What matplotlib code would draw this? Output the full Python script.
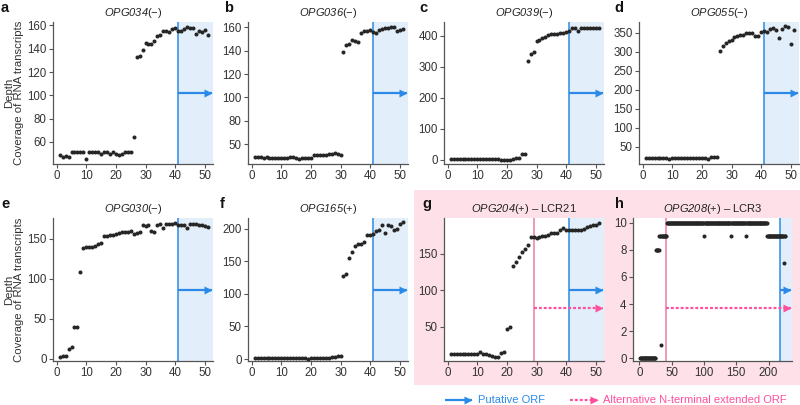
import numpy as np
import matplotlib
matplotlib.use('Agg')
import matplotlib.pyplot as plt
from matplotlib.transforms import blended_transform_factory, ScaledTranslation
from matplotlib.patches import Rectangle
from matplotlib.lines import Line2D

plt.rcParams['font.family'] = ['Liberation Sans', 'DejaVu Sans']
# gene names are the only mathtext: render all of it (digits too) in italic
plt.rcParams['mathtext.fontset'] = 'custom'
plt.rcParams['mathtext.it'] = 'Liberation Sans:italic'
plt.rcParams['mathtext.rm'] = 'Liberation Sans:italic'

# --- data (depth per position) ---
a_y = [49, 47, 48, 47, 51, 51, 51, 51, 51, 45, 51, 51, 51, 51, 50, 51, 51, 50, 51, 50,
       49, 50, 51, 51, 51, 64, 133, 134, 139, 145, 144, 144, 147, 151, 152, 155, 155, 154, 157, 158,
       155, 155, 157, 159, 158, 158, 153, 155, 154, 156, 152]
b_y = [49, 49, 49, 48.5, 49, 48.5, 48.5, 48.5, 48.5, 48.5, 48.5, 48.5, 49, 49, 48.5, 47.5, 48, 48, 48, 48,
       51, 50.5, 50.5, 51, 51, 51.5, 51.5, 52.5, 51.5, 51, 138.6, 145, 146, 149, 148, 147, 154.8, 156.5, 157, 157.5,
       156.3, 155.4, 157.7, 158.5, 159, 159.5, 160.5, 160, 157, 157.7, 158.3]
c_y = [2, 2, 2, 2, 2, 2, 2, 2, 2, 2, 2, 2, 2, 2, 2, 2, 2, 1, 0.5, 0.5,
       1, 3, 5, 5, 19, 19, 320, 340, 347, 383, 386, 393, 397, 402, 404, 404, 404, 408, 410, 412,
       416, 426, 425, 414, 424, 426, 426, 425, 425, 425, 425]
d_y = [21, 21, 21, 21, 21, 21, 21, 21, 17, 21, 21, 21, 21, 21, 21, 21, 21, 21, 21, 21,
       21, 17, 22, 22, 23, 302, 315, 322, 329, 331, 339, 340, 344, 344, 348, 348, 350, 342, 340, 353,
       354, 353, 359, 363, 357, 337, 359, 367, 364, 320, 358]
e_y = [2, 3, 3, 12, 14, 40, 39, 108, 138, 140, 140, 140, 141, 144, 145, 154, 153, 155, 155, 156,
       157, 158, 159, 159, 160, 156, 157, 158, 167, 166, 167, 160, 158, 167, 168, 164, 168, 168, 169, 170,
       167, 167, 167, 164, 169, 169, 168, 167, 167, 166, 165]
f_y = [1, 1, 1, 1, 1, 1, 1, 1, 1, 1, 1, 1, 1, 1, 1, 1, 1, 1, 0, 1,
       1, 1, 1, 1, 1, 1, 2.5, 3.5, 4.5, 4.5, 127, 131, 155, 165, 173, 176, 176, 180, 191, 190,
       192, 197, 198, 205, 193, 205, 204, 198, 200, 207, 210]
g_y = [12, 12, 12, 12, 12, 12, 13, 13, 13, 13, 15, 12, 12, 11, 10, 9, 8, 14, 16, 47,
       50, 133, 139, 146, 153, 156, 162, 173, 173, 172, 173, 174, 175, 176, 178, 178, 179, 182, 185, 183,
       183, 183, 182, 183, 183, 184, 186, 188, 189, 190, 192]

# panel h as runs of equal depth: (first position, last position, depth)
h_run_start = [1, 26, 31, 33, 34, 43, 100, 101, 142, 143, 165, 166, 198, 224, 225]
h_run_end = [25, 30, 32, 33, 42, 99, 100, 141, 142, 164, 165, 197, 223, 224, 226]
h_run_value = [0, 8, 9, 1, 9, 10, 9, 10, 9, 10, 9, 10, 9, 7, 9]
h_x = np.concatenate([np.arange(s, e + 1) for s, e in zip(h_run_start, h_run_end)])
h_y = np.concatenate([[v] * (e - s + 1) for s, e, v in zip(h_run_start, h_run_end, h_run_value)])

titles = [r'$OPG034$(−)', r'$OPG036$(−)', r'$OPG039$(−)', r'$OPG055$(−)',
          r'$OPG030$(−)', r'$OPG165$(+)', r'$OPG204$(+) – LCR21', r'$OPG208$(+) – LCR3']
letters = ['a', 'b', 'c', 'd', 'e', 'f', 'g', 'h']
orf_start = [41, 41, 41, 41, 41, 41, 41, 217]
alt_start = [None, None, None, None, None, None, 29, 41]

yticks = [[60, 80, 100, 120, 140, 160], [60, 80, 100, 120, 140, 160], [0, 100, 200, 300, 400],
          [50, 100, 150, 200, 250, 300, 350], [0, 50, 100, 150], [0, 50, 100, 150, 200],
          [50, 100, 150], [0, 2, 4, 6, 8, 10]]
b_yticklabels = ['50', '80', '100', '120', '140', '160']
xticks_short = [0, 10, 20, 30, 40, 50]
xticks_h = [0, 50, 100, 150, 200]

ylims = [(41, 163), (43, 164.5), (-13, 444), (4.5, 378), (-3, 176), (-3, 216.5), (3, 199), (-0.2, 10.35)]
xlim_short = (-1.25, 52.8)
xlim_h = (-9.8, 236.3)

BLUE = '#2b8ae8'
SHADE = '#e3eefb'
PINK_LINE = '#ef7aa6'
PINK = '#ff4f9d'
PINK_BG = '#fde0e8'
DOT = '#262626'
TXT = '#333333'

W, H = 800, 405
fig = plt.figure(figsize=(8, 4.05), dpi=100, facecolor='white')

# pink box behind g and h
fig.add_artist(Rectangle((414 / W, 1 - 385 / H), (W - 414) / W, 195 / H,
                         transform=fig.transFigure, color=PINK_BG, lw=0, zorder=-10))

# axes boxes in pixels: left, top, width, height
boxes = [(53, 22, 160, 142), (248, 22, 160, 142), (444, 22, 160, 142), (639, 22, 160, 142),
         (53, 218, 160, 143), (248, 218, 160, 143), (444, 218, 160, 143), (633, 218, 159, 143)]
series = [a_y, b_y, c_y, d_y, e_y, f_y, g_y]
letter_pos = [(1, 12), (224, 12), (419, 12), (614, 12), (1, 208), (220, 208), (422, 208), (615, 208)]


def arrow(ax, x0, x1, yfrac, color, dotted=False):
    tr = blended_transform_factory(ax.transData, ax.transAxes)
    head = tr + ScaledTranslation(-2.8 / 72, 0, fig.dpi_scale_trans)
    ls = (0, (1.3, 0.9)) if dotted else '-'
    ax.plot([x0, x1], [yfrac, yfrac], transform=tr, color=color, lw=1.6, ls=ls,
            solid_capstyle='butt', dash_capstyle='butt', clip_on=False, zorder=4)
    ax.plot([x1], [yfrac], transform=head, marker='>', ms=5.6, color=color, mec='none',
            clip_on=False, zorder=4)


for i in range(8):
    l, t, w, h = boxes[i]
    ax = fig.add_axes([l / W, 1 - (t + h) / H, w / W, h / H])
    ax.set_facecolor('white')
    if i < 7:
        y = series[i]
        x = np.arange(1, len(y) + 1)
        xl = xlim_short
        xt = xticks_short
    else:
        x, y = h_x, h_y
        xl = xlim_h
        xt = xticks_h
    ax.set_xlim(xl)
    ax.set_ylim(ylims[i])
    ax.axvspan(orf_start[i], xl[1], color=SHADE, lw=0, zorder=0)
    ax.axvline(orf_start[i], color=BLUE, lw=1.1, zorder=1)
    tip = xl[0] + (xl[1] - xl[0]) * 0.995
    if alt_start[i] is not None:
        ax.axvline(alt_start[i], color=PINK_LINE, lw=1.1, zorder=1)
        arrow(ax, alt_start[i], tip, 0.37, PINK, dotted=True)
    arrow(ax, orf_start[i], tip, 0.5, BLUE)
    ax.plot(x, y, 'o', ms=2.9, color=DOT, mec='none', zorder=3, clip_on=False)

    ax.set_xticks(xt)
    ax.set_yticks(yticks[i])
    if i == 1:
        ax.set_yticklabels(b_yticklabels)
    for s in ['top', 'right']:
        ax.spines[s].set_visible(False)
    for s in ['left', 'bottom']:
        ax.spines[s].set_color('#555555')
        ax.spines[s].set_linewidth(0.9)
    ax.tick_params(length=3, width=0.8, color='#555555', labelcolor=TXT, labelsize=8.3, pad=1.5)
    ax.set_title(titles[i], fontsize=8, pad=4, color='#222222')

    lx, ly = letter_pos[i]
    fig.text(lx / W, 1 - ly / H, letters[i], fontsize=10.5, fontweight='bold', va='baseline', color='#111111')

# y labels
for yc in [93, 289.5]:
    fig.text(14 / W, 1 - yc / H, 'Depth\nCoverage of RNA transcripts', rotation=90, ha='center',
             va='center', multialignment='center', fontsize=8.2, color=TXT, linespacing=1.05)

# legend at the bottom
ly = 1 - 400 / H
tf = fig.transFigure
hf = tf + ScaledTranslation(-2.8 / 72, 0, fig.dpi_scale_trans)
fig.add_artist(Line2D([445 / W, 472 / W], [ly, ly], transform=tf, color=BLUE, lw=1.6, solid_capstyle='butt'))
fig.add_artist(Line2D([472 / W], [ly], transform=hf, marker='>', ms=5.6, color=BLUE, mec='none'))
fig.text(478 / W, ly, 'Putative ORF', color=BLUE, fontsize=8, va='center')
fig.add_artist(Line2D([570 / W, 598 / W], [ly, ly], transform=tf, color=PINK, lw=1.6,
                      ls=(0, (1.3, 0.9)), dash_capstyle='butt'))
fig.add_artist(Line2D([598 / W], [ly], transform=hf, marker='>', ms=5.6, color=PINK, mec='none'))
fig.text(603 / W, ly, 'Alternative N-terminal extended ORF', color=PINK, fontsize=8, va='center')

fig.savefig('out.png', dpi=100, facecolor='white')
